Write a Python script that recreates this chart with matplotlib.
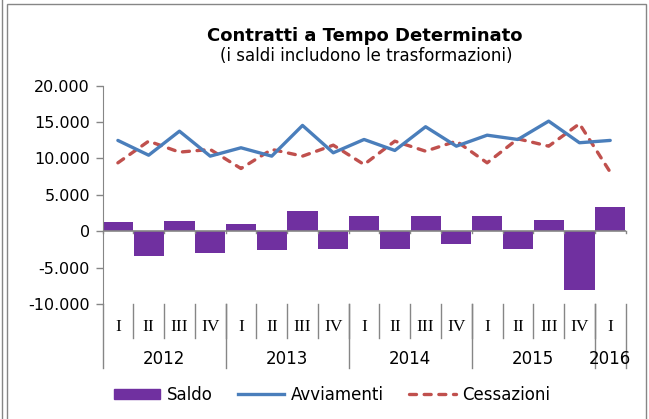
import matplotlib.pyplot as plt
import numpy as np
from matplotlib.patches import Rectangle, Patch
from matplotlib.lines import Line2D
from matplotlib.ticker import FuncFormatter

# quarterly data 2012-I .. 2016-I
quarters = ['I', 'II', 'III', 'IV'] * 4 + ['I']
years = ['2012', '2013', '2014', '2015', '2016']
year_span = [4, 4, 4, 4, 1]
saldo = [1240, -3350, 1420, -2980, 1050, -2610, 2750, -2380, 2150,
         -2380, 2150, -1790, 2150, -2380, 1600, -8110, 3350]
avviamenti = [12480, 10450, 13750, 10320, 11470, 10320, 14540, 10780, 12610,
              11100, 14360, 11690, 13200, 12610, 15130, 12160, 12480]
cessazioni = [9400, 12380, 10870, 11240, 8620, 11240, 10320, 11830, 9170,
              12380, 11000, 12380, 9400, 12700, 11690, 14770, 8120]

PURPLE = '#7030A0'
BLUE = '#4A7EBB'
RED = '#C0504D'
GRAY = '#868686'

W, H = 649, 419
fig = plt.figure(figsize=(W / 100, H / 100), dpi=100)
ax = fig.add_axes([102.5 / W, 1 - 304 / H, (625.6 - 102.5) / W, (304 - 85.7) / H])

x = np.arange(len(quarters))
ax.bar(x, saldo, width=0.98, color=PURPLE, zorder=2)
ax.plot(x, avviamenti, color=BLUE, lw=2.4, zorder=4, solid_capstyle='round')
ax.plot(x, cessazioni, color=RED, lw=2.4, zorder=3, dashes=(2.1, 2.3),
        dash_capstyle='round')

ax.set_xlim(-0.5, len(x) - 0.5)
ax.set_ylim(-10000, 20000)
ax.set_yticks(np.arange(-10000, 20001, 5000))
ax.yaxis.set_major_formatter(FuncFormatter(lambda v, p: f'{int(v):,}'.replace(',', '.')))
ax.tick_params(axis='y', length=5, width=1, color=GRAY, labelsize=11.5, pad=4)
ax.set_xticks([])
for s in ['top', 'right', 'bottom']:
    ax.spines[s].set_visible(False)
ax.spines['left'].set_color(GRAY)

# zero line with small ticks at category boundaries
ax.axhline(0, color=GRAY, lw=1.2, zorder=3)
trans = ax.get_xaxis_transform()
for b in np.arange(-0.5, len(x), 1.0):
    ax.plot([b, b], [0, -250], color=GRAY, lw=1, zorder=3, clip_on=False)

# multi-level category labels
ah = 304 - 85.7
for i, q in enumerate(quarters):
    ax.text(i, -23 / ah, q, transform=trans, ha='center', va='center',
            fontsize=12.5, family='Liberation Serif')
for b in np.arange(0.5, len(x) - 1, 1.0):
    ax.plot([b, b], [0, -34 / ah], transform=trans, color=GRAY, lw=1, clip_on=False)
start = 0
edges = [-0.5]
for y, n in zip(years, year_span):
    ax.text(start + (n - 1) / 2, -55 / ah, y, transform=trans, ha='center',
            va='center', fontsize=12)
    start += n
    edges.append(start - 0.5)
for e in edges:
    ax.plot([e, e], [0, -64 / ah], transform=trans, color=GRAY, lw=1, clip_on=False)

# titles
fig.text(365 / W, 1 - 36 / H, 'Contratti a Tempo Determinato', ha='center',
         va='center', fontsize=13, fontweight='bold')
fig.text(366 / W, 1 - 56 / H, '(i saldi includono le trasformazioni)',
         ha='center', va='center', fontsize=12)

# legend
handles = [Patch(color=PURPLE),
           Line2D([], [], color=BLUE, lw=2.4),
           Line2D([], [], color=RED, lw=2.4, dashes=(2.1, 2.3), dash_capstyle='round')]
fig.legend(handles, ['Saldo', 'Avviamenti', 'Cessazioni'], ncol=3, loc='center',
           bbox_to_anchor=(332 / W, 1 - 395 / H), frameon=False, fontsize=12,
           handlelength=2.8, handletextpad=0.4, columnspacing=1.5, handleheight=0.6)

# chart frame
fig.add_artist(Rectangle((7 / W, -0.05), 639 / W, (415 / H) + 0.05,
                         transform=fig.transFigure, fill=False, edgecolor=GRAY, lw=1))
fig.add_artist(Line2D([1.5 / W, 1.5 / W], [0, 1], transform=fig.transFigure,
                      color=GRAY, lw=1))

fig.savefig('out.png', dpi=100)
